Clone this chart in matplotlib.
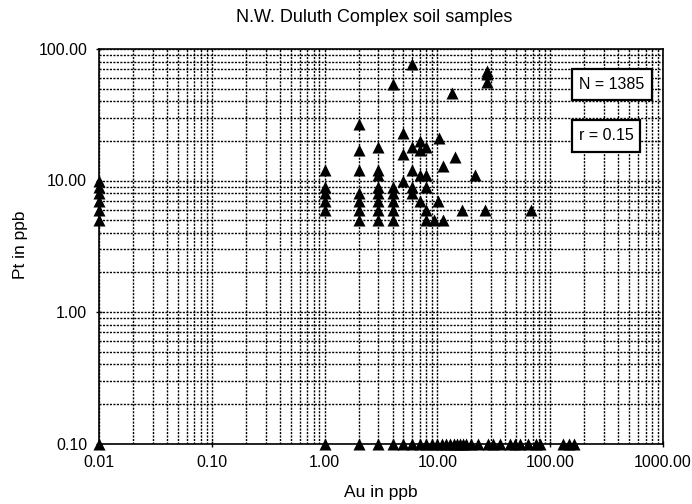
import matplotlib
matplotlib.use("Agg")
import matplotlib.pyplot as plt
from matplotlib.patches import Rectangle
from matplotlib.ticker import FixedLocator, FixedFormatter, LogLocator, NullFormatter

plt.rcParams['font.family'] = ['Liberation Sans', 'DejaVu Sans']

# Data (Au ppb, Pt ppb)
au_values = [
    0.01, 0.01, 0.01, 0.01, 0.01, 0.01,
    1, 1, 1, 1, 1,
    2, 2, 2, 2, 2, 2, 2,
    3, 3, 3, 3, 3, 3, 3, 3,
    4, 4, 4, 4, 4, 4,
    5, 5, 5,
    6, 6, 6, 6, 6,
    7, 7, 7, 7,
    8, 8, 8, 8, 8,
    9.4, 10.4, 10.2, 11.2, 11.2,
    13.4, 14.3, 16.4, 21.5, 26.4,
    27.4, 27.4, 27.4, 67,
]
pt_values = [
    10, 9, 8, 7, 6, 5,
    12, 9, 8, 7, 6,
    27, 17, 12, 8, 7, 6, 5,
    18, 12, 11, 9, 8, 7, 6, 5,
    54, 9, 8, 7, 6, 5,
    23, 16, 10,
    77, 18, 12, 9, 8,
    20, 17, 11, 7,
    18, 11, 9, 6, 5,
    5, 21, 7, 13, 5,
    46, 15, 6, 11, 6,
    68, 65, 56, 6,
]
# samples below Pt detection (plotted at 0.10)
au_bottom = [0.01, 1, 2, 3, 4, 5, 6, 7, 8, 9, 10, 11, 12, 13, 14, 15, 16, 17, 18,
             20, 23, 28, 31, 36, 44, 49, 54, 64, 75, 81, 130, 146, 162]
pt_bottom = [0.1] * len(au_bottom)

x_ticks = [0.01, 0.1, 1, 10, 100, 1000]
y_ticks = [0.1, 1, 10, 100]
x_tick_labels = ["0.01", "0.10", "1.00", "10.00", "100.00", "1000.00"]
y_tick_labels = ["0.10", "1.00", "10.00", "100.00"]

title = "N.W. Duluth Complex soil samples"
x_label = "Au in ppb"
y_label = "Pt in ppb"
n_text = "N = 1385"
r_text = "r = 0.15"

W, H = 692, 504
fig = plt.figure(figsize=(W/100, H/100), dpi=100)
ax = fig.add_axes([99/W, 1-443.5/H, (663-99)/W, (443.5-49)/H])
ax.set_xscale('log')
ax.set_yscale('log')
ax.set_xlim(0.01, 1000)
ax.set_ylim(0.1, 100)

ax.xaxis.set_major_locator(FixedLocator(x_ticks))
ax.xaxis.set_major_formatter(FixedFormatter(x_tick_labels))
ax.yaxis.set_major_locator(FixedLocator(y_ticks))
ax.yaxis.set_major_formatter(FixedFormatter(y_tick_labels))
ax.xaxis.set_minor_locator(LogLocator(base=10, subs=range(2, 10)))
ax.yaxis.set_minor_locator(LogLocator(base=10, subs=range(2, 10)))
ax.xaxis.set_minor_formatter(NullFormatter())
ax.yaxis.set_minor_formatter(NullFormatter())

ax.grid(which='both', linestyle=(0, (1.5, 1.0)), color='black', linewidth=1.0)
ax.set_axisbelow(True)
ax.tick_params(which='major', direction='inout', length=5, width=1, labelsize=11.5, pad=6)
ax.tick_params(which='minor', length=0)
for s in ax.spines.values():
    s.set_linewidth(1.2)

ax.scatter(au_values, pt_values, marker='^', s=75, color='black', linewidths=0,
           clip_on=False, zorder=3)
ax.scatter(au_bottom, pt_bottom, marker='^', s=75, color='black', linewidths=0,
           clip_on=False, zorder=3)

fig.text(374/W, 1-18/H, title, ha='center', va='center', fontsize=13)
fig.text(381/W, 1-492/H, x_label, ha='center', va='center', fontsize=12.5)
fig.text(20/W, 1-245/H, y_label, ha='center', va='center', fontsize=12.5, rotation=90)

for (x0, x1, y0, y1, txt) in [(572, 652, 69, 100, n_text), (572, 640, 120, 152, r_text)]:
    fig.patches.append(Rectangle((x0/W, 1-y1/H), (x1-x0)/W, (y1-y0)/H,
                                 transform=fig.transFigure, facecolor='white',
                                 edgecolor='black', linewidth=1.6, zorder=5))
    fig.text((x0+x1)/2/W, 1-(y0+y1)/2/H, txt, ha='center', va='center',
             fontsize=11.5, zorder=6)

fig.savefig("out.png", dpi=100)
